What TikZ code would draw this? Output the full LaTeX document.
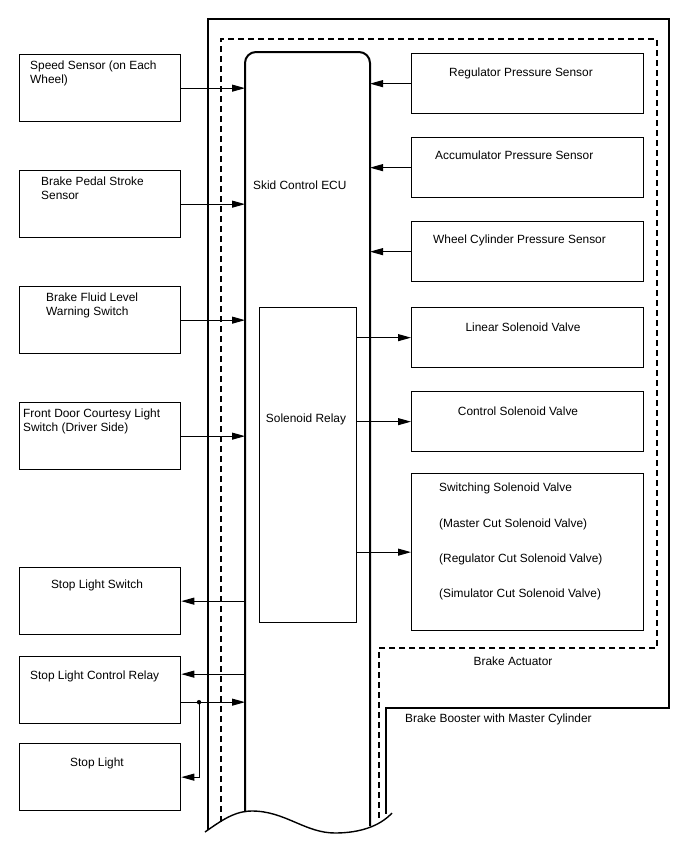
\documentclass[tikz,border=0pt]{standalone}
\usepackage{fontspec}
\setmainfont{Liberation Sans}
\usetikzlibrary{arrows.meta}
\begin{document}
\begin{tikzpicture}[x=1pt,y=-1pt,
  box/.style={draw,line width=1.3pt,minimum width=161pt,minimum height=67pt,anchor=north west,inner sep=0pt},
  rbox/.style={draw,line width=1.3pt,minimum width=232pt,minimum height=60pt,anchor=north west,inner sep=0pt},
  txt/.style={font=\fontsize{11.9}{14}\selectfont,inner sep=0pt,align=left},
  conn/.style={line width=1pt,-{Triangle[length=13pt,width=7pt]}},
  frame/.style={line width=1.4pt},
  dashframe/.style={line width=1.4pt,dash pattern=on 6pt off 4pt}]
\useasboundingbox (0,0) rectangle (688,852);

% frames
\draw[frame] (208,830) -- (208,19) -- (669,19) -- (669,708) -- (386,708) -- (386,814);
\draw[dashframe] (221,822) -- (221,39) -- (657,39) -- (657,648) -- (379,648) -- (379,820);

% ECU
\draw[line width=2pt,rounded corners=11pt] (245,812) -- (245,52) -- (370,52) -- (370,826);
\coordinate (ecuL) at (245,0);
\coordinate (ecuR) at (370,0);

% break line
\draw[frame] (205,832) .. controls (222,820) and (235,811) .. (252,811) .. controls (285,811) and (305,833) .. (335,833) .. controls (360,833) and (380,826) .. (392,813);

% left boxes
\node[box] (speed) at (19,54) {};
\node[box] (pedal) at (19,170) {};
\node[box] (fluid) at (19,286) {};
\node[box] (door) at (19,402) {};
\node[box] (sls) at (19,567) {};
\node[box] (slcr) at (19,656) {};
\node[box] (sl) at (19,743) {};

% right boxes
\node[rbox] (reg) at (411,53) {};
\node[rbox] (acc) at (411,137) {};
\node[rbox] (wcyl) at (411,221) {};
\node[rbox] (lin) at (411,307) {};
\node[rbox] (ctrl) at (411,391) {};
\node[rbox,minimum height=157pt] (sw) at (411,473) {};

% relay
\node[draw,line width=1.3pt,minimum width=97pt,minimum height=315pt,anchor=north west,inner sep=0pt] (relay) at (259,307) {};

% connectors
\draw[conn] (speed.east) -- (speed.east -| ecuL);
\draw[conn] (pedal.east) -- (pedal.east -| ecuL);
\draw[conn] (fluid.east) -- (fluid.east -| ecuL);
\draw[conn] (door.east) -- (door.east -| ecuL);
\draw[conn] (sls.east -| ecuL) -- (sls.east);
\coordinate (slcrA) at ([yshift=16pt]slcr.east);
\coordinate (slcrB) at ([yshift=-12pt]slcr.east);
\draw[conn] (slcrA -| ecuL) -- (slcrA);
\draw[conn] (slcrB) -- (slcrB -| ecuL);
\coordinate (j) at (199,0 |- slcrB);
\fill (j) circle (2.2pt);
\draw[conn] (j) |- (sl.east);

\draw[conn] (reg.west) -- (reg.west -| ecuR);
\draw[conn] (acc.west) -- (acc.west -| ecuR);
\draw[conn] (wcyl.west) -- (wcyl.west -| ecuR);
\draw[conn] (lin.west -| relay.east) -- (lin.west);
\draw[conn] (ctrl.west -| relay.east) -- (ctrl.west);
\draw[conn] (sw.west -| relay.east) -- (sw.west);

% texts
\node[txt,anchor=west] (tspeed) at (30,73) {Speed Sensor (on Each\\Wheel)};
\node[txt,anchor=west] (tpedal) at (41,188) {Brake Pedal Stroke\\Sensor};
\node[txt,anchor=west] (tfluid) at (46,305) {Brake Fluid Level\\Warning Switch};
\node[txt,anchor=west] (tdoor) at (23,421) {Front Door Courtesy Light\\Switch (Driver Side)};
\node[txt] (tsls) at (97,585) {Stop Light Switch};
\node[txt,anchor=west] (tslcr) at (30,676) {Stop Light Control Relay};
\node[txt] (tsl) at (97,763) {Stop Light};
\node[txt,anchor=west] (tecu) at (253,185) {Skid Control ECU};
\node[txt] (trelay) at (306,419) {Solenoid Relay};
\node[txt] (treg) at (521,73) {Regulator Pressure Sensor};
\node[txt,anchor=west] (tacc) at (435,155) {Accumulator Pressure Sensor};
\node[txt,anchor=west] (twcyl) at (433,240) {Wheel Cylinder Pressure Sensor};
\node[txt] (tlin) at (523,327) {Linear Solenoid Valve};
\node[txt] (tctrl) at (518,411) {Control Solenoid Valve};
\node[txt,anchor=west] (tsw1) at (439,488) {Switching Solenoid Valve};
\node[txt,anchor=west] (tsw2) at (439,524) {(Master Cut Solenoid Valve)};
\node[txt,anchor=west] (tsw3) at (439,559) {(Regulator Cut Solenoid Valve)};
\node[txt,anchor=west] (tsw4) at (439,594) {(Simulator Cut Solenoid Valve)};
\node[txt] (tact) at (513,661) {Brake Actuator};
\node[txt,anchor=west] (tboost) at (405,719) {Brake Booster with Master Cylinder};
\end{tikzpicture}
\end{document}
